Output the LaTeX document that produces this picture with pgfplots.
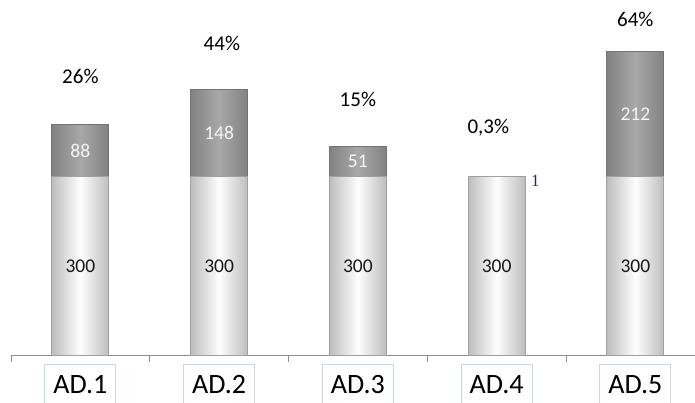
\documentclass[border=0pt]{standalone}
\usepackage{pgfplots}
\pgfplotsset{compat=1.18}
\usepackage{fontspec}
\setmainfont{Carlito}
\newfontfamily\seriffont{Liberation Serif}
\definecolor{lowedge}{HTML}{BDBDBD}
\definecolor{lowmid}{HTML}{FEFEFE}
\definecolor{lowdraw}{HTML}{A0A0A0}
\definecolor{topedge}{HTML}{828282}
\definecolor{topmid}{HTML}{A8A8A8}
\definecolor{topdraw}{HTML}{737373}
\definecolor{boxblue}{HTML}{C9D7EC}
\definecolor{axisgray}{HTML}{8E8E8E}
\definecolor{onecol}{HTML}{3A1F4A}
\pgfplotsset{
  lowbar/.style={ybar, bar shift=0pt, bar width=57pt, draw=lowdraw, line width=0.9pt,
    left color=lowedge, right color=lowedge, middle color=lowmid},
  topbar/.style={ybar, bar shift=0pt, bar width=57pt, draw=topdraw, line width=0.9pt,
    left color=topedge, right color=topedge, middle color=topmid},
}
\begin{document}
\begin{tikzpicture}[x=1pt,y=1pt]
\useasboundingbox (0,0) rectangle (695,403);
\clip (0,0) rectangle (695,403);
\begin{axis}[
  at={(11pt,48pt)}, anchor=south west,
  scale only axis, width=684pt, height=355pt,
  xmin=-0.5, xmax=4.43, ymin=0, ymax=598,
  axis y line=none,
  axis x line*=bottom,
  axis line style={draw=axisgray, line width=0.9pt},
  xtick={0,1,2,3,4},
  xticklabels={AD.1,AD.2,AD.3,AD.4,AD.5},
  major tick length=0pt,
  minor xtick={-0.5,0.5,1.5,2.5,3.5,4.5},
  minor tick length=7pt,
  tick align=outside,
  tick style={draw=axisgray, line width=0.9pt},
  xticklabel style={draw=boxblue, line width=0.8pt, fill=white,
    font=\fontsize{28}{30}\selectfont, text=black,
    inner xsep=8.5pt, inner ysep=11pt, anchor=north, yshift=-9pt},
  clip=false,
]
% totals = 300 + top segment (88, 148, 51, 1, 212)
\addplot[topbar] coordinates {(0,388)};
\addplot[lowbar] coordinates {(0,300)};
\addplot[topbar] coordinates {(1,448)};
\addplot[lowbar] coordinates {(1,300)};
\addplot[topbar] coordinates {(2,351)};
\addplot[lowbar] coordinates {(2,300)};
\addplot[topbar] coordinates {(3,301)};
\addplot[lowbar] coordinates {(3,300)};
\addplot[topbar] coordinates {(4,512)};
\addplot[lowbar] coordinates {(4,300)};
% segment labels
\node[font=\fontsize{19.5}{21}\selectfont, text=black!90] at (axis cs:0,150) {300};
\node[font=\fontsize{19.5}{21}\selectfont, text=black!90] at (axis cs:1,150) {300};
\node[font=\fontsize{19.5}{21}\selectfont, text=black!90] at (axis cs:2,150) {300};
\node[font=\fontsize{19.5}{21}\selectfont, text=black!90] at (axis cs:3,150) {300};
\node[font=\fontsize{19.5}{21}\selectfont, text=black!90] at (axis cs:4,150) {300};
\node[font=\fontsize{19.5}{21}\selectfont, text=white!92!gray] at (axis cs:0,344) {88};
\node[font=\fontsize{19.5}{21}\selectfont, text=white!92!gray] at (axis cs:1,374) {148};
\node[font=\fontsize{19.5}{21}\selectfont, text=white!92!gray] at (axis cs:2,325.5) {51};
\node[font=\fontsize{19.5}{21}\selectfont, text=white!92!gray] at (axis cs:4,406) {212};
\node[font=\seriffont\fontsize{17}{19}\selectfont, text=onecol] at (axis cs:3.28,293) {1};
% percentages
\node[font=\fontsize{21}{23}\selectfont] at (axis cs:0,470) {26\%};
\node[font=\fontsize{21}{23}\selectfont] at (axis cs:1.02,524) {44\%};
\node[font=\fontsize{21}{23}\selectfont] at (axis cs:2,430) {15\%};
\node[font=\fontsize{21}{23}\selectfont] at (axis cs:2.94,383) {0,3\%};
\node[font=\fontsize{21}{23}\selectfont] at (axis cs:4,565) {64\%};
\end{axis}
\end{tikzpicture}
\end{document}
